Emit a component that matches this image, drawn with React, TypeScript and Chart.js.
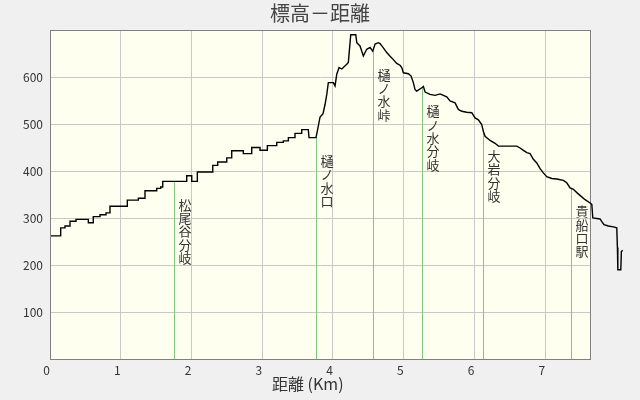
import React, { useEffect, useRef } from "react";
import { Chart, registerables } from "chart.js";

Chart.register(...registerables);

const titleText = "標高－距離";
const xAxisTitle = "距離 (Km)";

// distance (km)
const distKm = [
  0.014, 0.151, 0.151, 0.212, 0.212, 0.283, 0.283, 0.368, 0.368, 0.542,
  0.542, 0.612, 0.612, 0.707, 0.707, 0.792, 0.792, 0.848, 0.848, 1.093,
  1.093, 1.249, 1.249, 1.343, 1.343, 1.509, 1.509, 1.565, 1.565, 1.594,
  1.594, 1.933, 1.933, 2.004, 2.004, 2.083, 2.083, 2.301, 2.301, 2.371,
  2.371, 2.499, 2.499, 2.569, 2.569, 2.733, 2.733, 2.852, 2.852, 2.969,
  2.969, 3.073, 3.073, 3.206, 3.206, 3.299, 3.299, 3.370, 3.370, 3.464,
  3.464, 3.559, 3.559, 3.652, 3.662, 3.761, 3.794, 3.818, 3.860, 3.889,
  3.913, 3.935, 4.006, 4.030, 4.054, 4.087, 4.125, 4.195, 4.218, 4.252,
  4.323, 4.337, 4.383, 4.430, 4.478, 4.525, 4.563, 4.596, 4.642, 4.666,
  4.713, 4.761, 4.808, 4.854, 4.902, 4.949, 4.973, 4.996, 5.066, 5.105,
  5.137, 5.161, 5.185, 5.256, 5.279, 5.303, 5.373, 5.444, 5.515, 5.561,
  5.609, 5.656, 5.727, 5.773, 5.822, 5.892, 5.963, 6.009, 6.056, 6.104,
  6.127, 6.151, 6.222, 6.292, 6.339, 6.599, 6.646, 6.693, 6.741, 6.787,
  6.834, 6.882, 6.929, 6.975, 7.023, 7.094, 7.165, 7.258, 7.306, 7.353,
  7.400, 7.448, 7.518, 7.565, 7.636, 7.660, 7.674, 7.777, 7.799, 7.833,
  7.894, 7.965, 8.013, 8.022, 8.028, 8.070, 8.078, 8.098,
];

// elevation (m)
const elevM = [
  262, 262, 279, 279, 283, 283, 293, 293, 297, 297,
  290, 290, 303, 303, 307, 307, 311, 311, 325, 325,
  338, 338, 342, 342, 358, 358, 363, 363, 366, 366,
  378, 378, 390, 390, 378, 378, 398, 398, 412, 412,
  419, 419, 428, 428, 443, 443, 437, 437, 450, 450,
  444, 444, 454, 454, 461, 461, 464, 464, 471, 471,
  480, 480, 488, 488, 471, 471, 496, 515, 522, 542,
  563, 588, 588, 581, 606, 620, 617, 627, 631, 690,
  690, 673, 666, 645, 659, 663, 655, 670, 673, 671,
  662, 652, 644, 637, 629, 625, 620, 609, 607, 602,
  588, 573, 570, 577, 580, 568, 563, 561, 564, 561,
  558, 549, 545, 531, 527, 525, 524, 513, 509, 499,
  484, 474, 465, 459, 453, 453, 449, 444, 439, 437,
  425, 417, 405, 396, 388, 384, 383, 380, 375, 364,
  361, 354, 345, 339, 332, 329, 300, 298, 293, 286,
  283, 281, 279, 237, 190, 190, 229, 231,
];

const markerNames = ["松尾谷分岐", "樋ノ水口", "樋ノ水峠", "樋ノ水分岐", "大岩分岐", "貴船口駅"];
const markerKm = [1.758, 3.766, 4.572, 5.264, 6.127, 7.377];
const markerElev = [378, 471, 655, 577, 482, 364];

const xTickStep = 1;
const yTickStep = 100;
const xMin = 0;
const xPlotMax = 7.65; // right edge of the framed plot
const xScaleMax = 8.2; // profile runs past the frame
const yMin = 0;
const yMax = 700;

const CJK = '"Noto Sans CJK JP", "Noto Sans", sans-serif';

const decorPlugin = {
  id: "decor",
  beforeDraw(chart: any) {
    const { ctx, chartArea: a, scales } = chart;
    const right = scales.x.getPixelForValue(xPlotMax);
    ctx.save();
    ctx.fillStyle = "#f0f0f0";
    ctx.fillRect(0, 0, chart.width, chart.height);
    ctx.fillStyle = "#fffff0";
    ctx.fillRect(a.left, a.top, right - a.left, a.bottom - a.top);
    ctx.restore();
  },
  beforeDatasetsDraw(chart: any) {
    const { ctx, chartArea: a, scales } = chart;
    const xs = scales.x;
    const ys = scales.y;
    const right = Math.round(xs.getPixelForValue(xPlotMax));
    ctx.save();
    // horizontal grid
    ctx.strokeStyle = "#c8c8c8";
    ctx.lineWidth = 1;
    for (let v = yMin + yTickStep; v < yMax; v += yTickStep) {
      const py = Math.round(ys.getPixelForValue(v) - 0.5) + 0.5;
      ctx.beginPath();
      ctx.moveTo(a.left, py);
      ctx.lineTo(right, py);
      ctx.stroke();
    }
    // plot border
    ctx.strokeStyle = "#808080";
    ctx.strokeRect(a.left + 0.5, a.top + 0.5, right - a.left - 1, a.bottom - a.top);
    // marker lines + labels
    for (let i = 0; i < markerNames.length; i++) {
      const px = Math.round(xs.getPixelForValue(markerKm[i]) - 0.5) + 0.5;
      const top = ys.getPixelForValue(markerElev[i]);
      const bottom = ys.getPixelForValue(0);
      ctx.strokeStyle = "#80c880";
      ctx.lineWidth = 1;
      ctx.beginPath();
      ctx.moveTo(px, bottom);
      ctx.lineTo(px, top);
      ctx.stroke();
      ctx.fillStyle = "#333";
      ctx.font = "13px " + CJK;
      ctx.textAlign = "center";
      ctx.textBaseline = "top";
      const chars = Array.from(markerNames[i]);
      chars.forEach((ch, k) => {
        ctx.fillText(ch, px + 10.5, top + 17 + k * 13.33);
      });
    }
    ctx.restore();
  },
  afterDraw(chart: any) {
    const { ctx } = chart;
    ctx.save();
    ctx.fillStyle = "#444";
    ctx.font = "20px " + CJK;
    ctx.textAlign = "center";
    ctx.textBaseline = "middle";
    ctx.fillText(titleText, 320, 13);
    ctx.font = "16px " + CJK;
    ctx.textAlign = "left";
    ctx.fillStyle = "#333";
    ctx.fillText(xAxisTitle, 272, 384);
    ctx.restore();
  },
};

export default function App() {
  const ref = useRef<HTMLCanvasElement | null>(null);
  useEffect(() => {
    if (!ref.current) return;
    const points = distKm.map((d, i) => ({ x: d, y: elevM[i] }));
    const chart = new Chart(ref.current, {
      type: "line",
      data: {
        datasets: [
          {
            data: points,
            borderColor: "#000",
            borderWidth: 1.4,
            pointRadius: 0,
            tension: 0,
            fill: false,
            clip: false as any,
          },
        ],
      },
      options: {
        animation: false,
        responsive: false,
        devicePixelRatio: 1,
        layout: { padding: { top: 30, right: 10, left: 0, bottom: 0 } },
        plugins: {
          legend: { display: false },
          tooltip: { enabled: false },
          title: { display: false },
        },
        scales: {
          x: {
            type: "linear",
            min: xMin,
            max: xScaleMax,
            afterFit: (s: any) => {
              s.height = 41;
            },
            afterBuildTicks: (s: any) => {
              const t = [];
              for (let v = xMin; v <= xPlotMax; v += xTickStep) t.push({ value: v });
              s.ticks = t;
            },
            ticks: {
              align: "end",
              padding: 4,
              color: "#333",
              font: { family: CJK, size: 12 },
              maxRotation: 0,
              autoSkip: false,
            },
            grid: { color: "#c8c8c8", drawTicks: false },
            border: { display: false },
          },
          y: {
            type: "linear",
            min: yMin,
            max: yMax,
            afterFit: (s: any) => {
              s.width = 50;
            },
            ticks: {
              stepSize: yTickStep,
              padding: 7,
              color: "#333",
              font: { family: CJK, size: 12 },
              callback: (v: any) => (v === yMin || v === yMax ? "" : String(v)),
            },
            grid: { display: false, drawTicks: false },
            border: { display: false },
          },
        },
      },
      plugins: [decorPlugin],
    });
    return () => chart.destroy();
  }, []);
  return (
    <div style={{ position: "fixed", left: 0, top: 0, width: 640, height: 400 }}>
      <canvas ref={ref} width={640} height={400} style={{ display: "block", width: 640, height: 400 }} />
    </div>
  );
}
